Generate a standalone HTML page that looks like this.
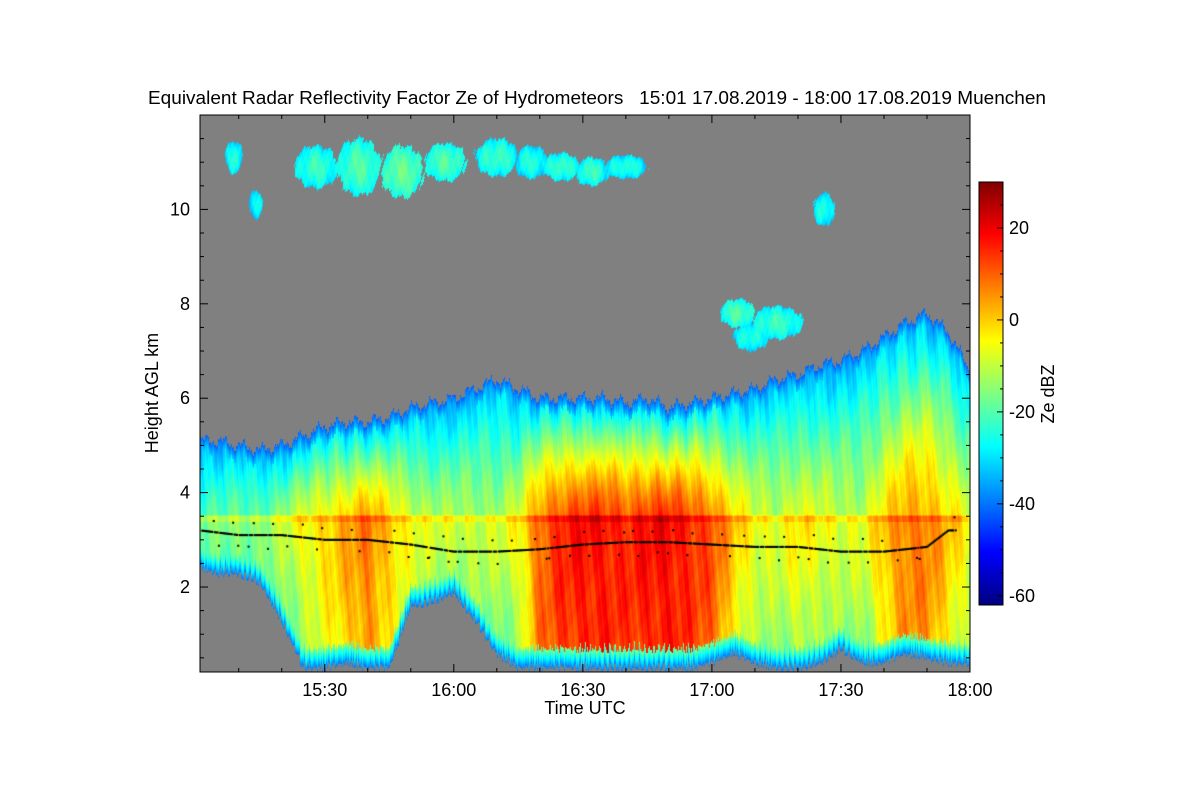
<!DOCTYPE html>
<html><head><meta charset="utf-8"><style>
body{margin:0;background:#fff;width:1200px;height:800px;position:relative;overflow:hidden;font-family:"Liberation Sans",sans-serif;}
#plot{position:absolute;left:200px;top:115px;}
svg{position:absolute;left:0;top:0;}
</style></head><body>
<canvas id="plot" width="770" height="557"></canvas>
<svg id="ov" width="1200" height="800"></svg>
<script>
// profile data: minutes after 15:00
const times=[1,5,10,15,20,25,30,35,40,45,50,55,60,65,70,75,80,85,90,95,100,105,110,115,120,125,130,135,140,145,150,155,160,165,170,175,180];
const tops=[5.1,5.1,5.0,4.9,5.0,5.2,5.4,5.5,5.5,5.6,5.8,5.9,6.0,6.2,6.4,6.2,6.0,6.0,6.0,6.0,5.9,6.0,5.8,5.9,6.0,6.1,6.2,6.4,6.5,6.7,6.8,7.0,7.3,7.6,7.8,7.4,6.6];
const bases=[2.3,2.2,2.2,2.0,1.2,0.2,0.2,0.3,0.2,0.2,1.5,1.6,1.8,1.2,0.5,0.2,0.2,0.2,0.2,0.2,0.2,0.2,0.2,0.2,0.3,0.5,0.3,0.2,0.2,0.3,0.6,0.3,0.3,0.5,0.4,0.3,0.3];
const peaks=[-16,-16,-14,-14,-10,-4,0,4,8,2,-4,-8,-8,-8,-8,-4,10,16,18,18,16,18,19,16,12,2,-4,-6,-2,-4,-6,-6,2,8,8,2,-4];
// upper cloud patches
const patchT=[9,14,28,38,48,58,70,78,85,92,100,135,126,129,146];
const patchH=[11.1,10.1,10.9,10.9,10.8,11.0,11.1,11.0,10.9,10.8,10.9,7.6,7.8,7.3,10.0];
const patchW=[2,1.5,5,5,5,5,5,4,4,4,5,6,4,4,2.5];
const patchK=[0.35,0.3,0.45,0.6,0.55,0.4,0.4,0.35,0.3,0.3,0.25,0.35,0.3,0.3,0.35];
const patchZ=[-32,-33,-30,-28,-26,-28,-30,-32,-30,-30,-32,-30,-28,-32,-32];
// ceilometer cloud base (km)
const cbT=[1,10,20,30,40,50,60,70,80,90,100,110,120,130,140,150,160,170,175];
const cbH=[3.2,3.1,3.1,3.0,3.0,2.9,2.75,2.75,2.8,2.9,2.95,2.95,2.9,2.85,2.85,2.75,2.75,2.85,3.2];
const dbzMin=-62, dbzMax=30;
const X0=200,X1=970,Y0=115,Y1=672,T0=1,T1=180,H0=0.2,H1=12;
const xs=t=>X0+(t-T0)/(T1-T0)*(X1-X0);
const ys=h=>Y1-(h-H0)/(H1-H0)*(Y1-Y0);
function interp(ax,ay,v){if(v<=ax[0])return ay[0];for(let i=1;i<ax.length;i++)if(v<=ax[i]){const f=(v-ax[i-1])/(ax[i]-ax[i-1]);return ay[i-1]+f*(ay[i]-ay[i-1]);}return ay[ay.length-1];}
function jet(v){let f=(v-dbzMin)/(dbzMax-dbzMin);f=Math.max(0,Math.min(1,f));
 const c=x=>Math.max(0,Math.min(1,1.5-Math.abs(4*f-x)));return [c(3)*255,c(2)*255,c(1)*255];}
function nz(a){return Math.sin(a*0.37)*0.5+Math.sin(a*1.13+1)*0.3+Math.sin(a*2.71+2)*0.2;}
const cv=document.getElementById('plot'),ctx=cv.getContext('2d');
const W=770,H=557,img=ctx.createImageData(W,H);
for(let px=0;px<W;px++){
 const t=T0+(px+0.5)/W*(T1-T0);
 const top=interp(times,tops,t)+0.18*nz(px*0.9);
 const base=interp(times,bases,t)+0.25*Math.abs(nz(px*1.7+5));
 const pk=interp(times,peaks,t);
 const slope=Math.max(1,Math.min(3.5,3.5-(pk+4)*0.2));
 for(let py=0;py<H;py++){
  const h=H1-(py+0.5)/H*(H1-H0);
  let z=null;
  if(h<=top&&h>=base){
   const tex=5*nz(px*0.8+h*3)+2*nz(px*0.23-h*5);
   if(h>=3.5){const fr=(h-3.5)/(top-3.5);z=pk-5-Math.pow(fr,1.3)*(pk+30)+tex;
     if(top-h<0.25)z=Math.min(z,-42+(top-h)*40);}
   else{z=pk-(3.5-h)*slope+tex; if(h-base<0.4)z=Math.min(z,-40+(h-base)*60);}
   if(h>3.38&&h<3.52)z+=4;
  }
  for(let i=0;i<patchT.length;i++){const dx=(t-patchT[i])/patchW[i],dy=(h-patchH[i])/patchK[i];
   const r=dx*dx+dy*dy+0.3*nz(px*1.3+py*0.4); if(r<1){const pz=patchZ[i]+8*(1-r)+3*nz(px*0.8+h*9); z=z===null?pz:Math.max(z,pz);}}
  const k=(py*W+px)*4;let c=z===null?[128,128,128]:jet(z);
  img.data[k]=c[0];img.data[k+1]=c[1];img.data[k+2]=c[2];img.data[k+3]=255;
 }
}
ctx.putImageData(img,0,0);
// ceilometer dots
ctx.fillStyle='#000';
for(let t=1.5;t<177;t+=0.3){const j=nz(t*7.3);const dy=Math.abs(j)>0.7?j*14:0;
 ctx.fillRect(xs(t)-X0-1,ys(interp(cbT,cbH,t))-Y0-1+dy,2,2);}
const NS='http://www.w3.org/2000/svg',ov=document.getElementById('ov');
function el(tag,a,txt){const e=document.createElementNS(NS,tag);for(const k in a)e.setAttribute(k,a[k]);if(txt!==undefined)e.textContent=txt;ov.appendChild(e);return e;}
let e=el('rect',{x:X0,y:Y0,width:X1-X0,height:Y1-Y0,fill:'none',stroke:'#000','stroke-width':1});

const xTickT=[30,60,90,120,150,180],xTickL=['15:30','16:00','16:30','17:00','17:30','18:00'];
for(let t=10;t<=180;t+=10){const x=xs(t);const L=(t%30==0)?8:4;
 e=el('line',{x1:x,x2:x,y1:Y1,y2:Y1-L,stroke:'#000'});
 e=el('line',{x1:x,x2:x,y1:Y0,y2:Y0+L,stroke:'#000'});}
xTickT.forEach((t,i)=>{e=el('text',{x:xs(t),y:Y1+24,'font-size':18,'text-anchor':'middle'},xTickL[i]);});
const yTicks=[2,4,6,8,10];
for(let h=0.5;h<12;h+=0.5){const y=ys(h);const L=(h%2==0)?8:4;
 e=el('line',{x1:X0,x2:X0+L,y1:y,y2:y,stroke:'#000'});
 e=el('line',{x1:X1,x2:X1-L,y1:y,y2:y,stroke:'#000'});}
yTicks.forEach(h=>{e=el('text',{x:X0-10,y:ys(h)+6,'font-size':18,'text-anchor':'end'},String(h));});
e=el('text',{x:585,y:714,'font-size':18,'text-anchor':'middle'},'Time UTC');
e=el('text',{x:158,y:393,'font-size':18,'text-anchor':'middle',transform:'rotate(-90 158 393)'},'Height AGL km');
e=el('text',{x:597,y:104,'font-size':18,'text-anchor':'middle',textLength:898,lengthAdjust:'spacingAndGlyphs'},'Equivalent Radar Reflectivity Factor Ze of Hydrometeors   15:01 17.08.2019 - 18:00 17.08.2019 Muenchen');e.style.whiteSpace='pre';
// colorbar
const CB0=182,CB1=605,CX=979,CW=24;
const cy=v=>CB1-(v-dbzMin)/(dbzMax-dbzMin)*(CB1-CB0);
const defs=el('defs',{});const g=document.createElementNS(NS,'linearGradient');g.setAttribute('id','jg');g.setAttribute('x1',0);g.setAttribute('x2',0);g.setAttribute('y1',1);g.setAttribute('y2',0);defs.appendChild(g);
for(let i=0;i<=16;i++){const v=dbzMin+i/16*(dbzMax-dbzMin);const c=jet(v);const s=document.createElementNS(NS,'stop');s.setAttribute('offset',i/16);s.setAttribute('stop-color',`rgb(${c.map(Math.round).join(',')})`);g.appendChild(s);}
e=el('rect',{x:CX,y:CB0,width:CW,height:CB1-CB0,fill:'url(#jg)',stroke:'#000'});
const cbTicks=[20,0,-20,-40,-60];
for(let v=-60;v<=30;v+=5){const y=cy(v);const L=(v%20==0)?6:3;
 e=el('line',{x1:CX+CW,x2:CX+CW-L,y1:y,y2:y,stroke:'#000'});}
cbTicks.forEach(v=>{e=el('text',{x:CX+CW+6,y:cy(v)+6,'font-size':18},(v<0?'-':'')+Math.abs(v));});
e=el('text',{x:1054,y:394,'font-size':18,'text-anchor':'middle',transform:'rotate(-90 1054 394)'},'Ze dBZ');
</script>
</body></html>
